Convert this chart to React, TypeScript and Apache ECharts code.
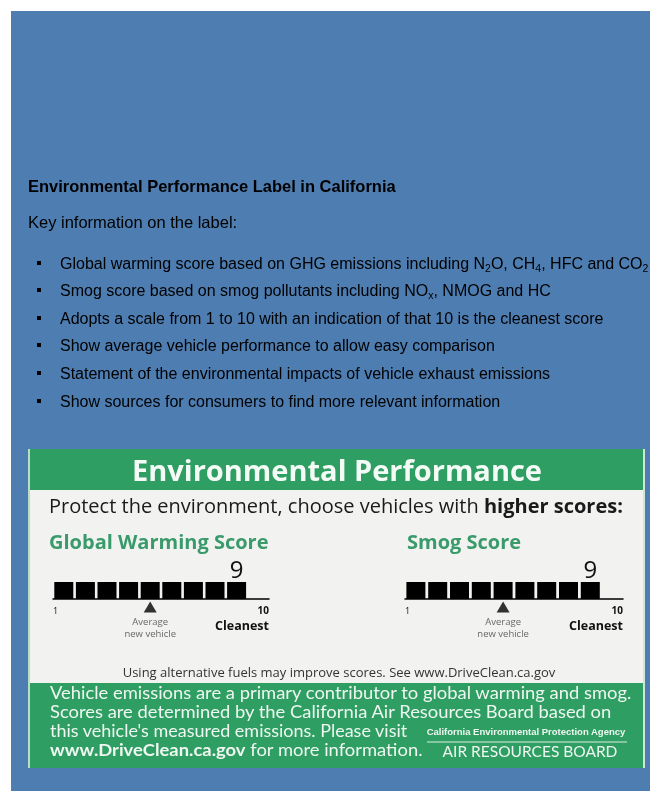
import React, { useEffect, useRef } from "react";
import * as echarts from "echarts";

const pageTitle = "Environmental Performance Label in California";
const keyHeading = "Key information on the label:";
const bulletItems = [
  "Global warming score based on GHG emissions including N{sub|2}O, CH{sub|4}, HFC and CO{sub|2}",
  "Smog score based on smog pollutants including NO{sub|x}, NMOG and HC",
  "Adopts a scale from 1 to 10 with an indication of that 10 is the cleanest score",
  "Show average vehicle performance to allow easy comparison",
  "Statement of the environmental impacts of vehicle exhaust emissions",
  "Show sources for consumers to find more relevant information",
];
const bulletRows = [263, 290, 318, 345, 373, 401];

const labelTitle = "Environmental Performance";
const labelIntro = "Protect the environment, choose vehicles with ";
const labelIntroBold = "higher scores:";
const scoreNames = ["Global Warming Score", "Smog Score"];
const scores = [9, 9];
const averageScores = [5, 5];
const scaleMin = 0;
const scaleMax = 10;
const scaleTickLabels = ["1", "10"];
const cleanestText = "Cleanest";
const averageText = "Average\nnew vehicle";
const fuelNote = "Using alternative fuels may improve scores. See www.DriveClean.ca.gov";
const footerLines = [
  "Vehicle emissions are a primary contributor to global warming and smog.",
  "Scores are determined by the California Air Resources Board based on",
  "this vehicle's measured emissions. Please visit",
  "{b|www.DriveClean.ca.gov} for more information.",
];
const agencyName = "California Environmental Protection Agency";
const boardName = "AIR RESOURCES BOARD";

const BLUE = "#4e7db1";
const GREEN = "#2f9e62";
const LIGHT = "#f2f3f0";
const TITLE_GREEN = "#3a9a6c";
const LABEL_FONT = "'Open Sans', 'Noto Sans', sans-serif";
const FOOT_FONT = "Lato, 'Open Sans', sans-serif";
const ARIAL = "'Liberation Sans', Arial, sans-serif";

const gridLefts = [53, 405];
const gridWidths = [216, 218];
const nameX = [49, 407];

export default function App() {
  const ref = useRef<HTMLDivElement>(null);
  useEffect(() => {
    if (!ref.current) return;
    const chart = echarts.init(ref.current, null, { renderer: "svg" });

    const graphics: any[] = [
      { type: "rect", shape: { x: 11, y: 11, width: 639, height: 780 }, style: { fill: BLUE }, z: -10 },
      {
        type: "text", x: 28, y: 186,
        style: { text: pageTitle, font: `bold 16.5px ${ARIAL}`, fill: "#000", verticalAlign: "middle" },
      },
      {
        type: "text", x: 28, y: 222,
        style: { text: keyHeading, font: `16.5px ${ARIAL}`, fill: "#000", verticalAlign: "middle" },
      },
    ];
    bulletItems.forEach((t, i) => {
      graphics.push({
        type: "rect", shape: { x: 37, y: bulletRows[i] - 2, width: 4, height: 4 }, style: { fill: "#000" },
      });
      graphics.push({
        type: "text", x: 60, y: bulletRows[i],
        style: {
          text: t, fontFamily: ARIAL, fontSize: 16, fill: "#000", verticalAlign: "middle",
          rich: {
            sub: { fontFamily: ARIAL, fontSize: 10.5, verticalAlign: "bottom", lineHeight: 21, fill: "#000" },
          },
        },
      });
    });
    // label panel
    graphics.push(
      { type: "rect", shape: { x: 28, y: 449, width: 617, height: 319 }, style: { fill: GREEN }, z: -5 },
      { type: "rect", shape: { x: 28, y: 449, width: 2, height: 319 }, style: { fill: "#b7dec7" }, z: -4 },
      { type: "rect", shape: { x: 643, y: 449, width: 2, height: 319 }, style: { fill: "#cfe6d8" }, z: -4 },
      { type: "rect", shape: { x: 30, y: 490, width: 613, height: 193 }, style: { fill: LIGHT }, z: -4 },
      {
        type: "text", x: 337, y: 469,
        style: { text: labelTitle, font: `bold 29px ${LABEL_FONT}`, fill: "#f4faf6", align: "center", verticalAlign: "middle" },
      },
      {
        type: "text", x: 49, y: 505,
        style: {
          text: `${labelIntro}{b|${labelIntroBold}}`, fontFamily: LABEL_FONT, fontSize: 20, fill: "#1a1a1a", verticalAlign: "middle",
          rich: { b: { fontFamily: LABEL_FONT, fontSize: 20, fontWeight: "bold", fill: "#1a1a1a" } },
        },
      }
    );
    scoreNames.forEach((n, i) => {
      graphics.push({
        type: "text", x: nameX[i], y: 541,
        style: { text: n, font: `bold 20px ${LABEL_FONT}`, fill: TITLE_GREEN, verticalAlign: "middle" },
      });
    });
    graphics.push(
      {
        type: "text", x: 339, y: 672,
        style: { text: fuelNote, font: `13px ${LABEL_FONT}`, fill: "#333", align: "center", verticalAlign: "middle" },
      }
    );
    const footerY = [693, 712, 731, 750];
    footerLines.forEach((t, i) => {
      graphics.push({
        type: "text", x: 50, y: footerY[i], scaleX: i === 2 ? 1.09 : 1.115,
        style: {
          text: t, fontFamily: FOOT_FONT, fontSize: 16.5, lineHeight: 18, fill: "#eef7f1", verticalAlign: "middle",
          rich: { b: { fontFamily: FOOT_FONT, fontSize: 16.5, fontWeight: "bold", lineHeight: 18, fill: "#eef7f1" } },
        },
      });
    });
    graphics.push(
      {
        type: "text", x: 526, y: 731,
        style: { text: agencyName, font: `bold 9.5px 'Liberation Sans Narrow', ${ARIAL}`, fill: "#eef7f1", align: "center", verticalAlign: "middle" },
      },
      { type: "line", shape: { x1: 427, y1: 742, x2: 627, y2: 742 }, style: { stroke: "#dcefe3", lineWidth: 1 } },
      {
        type: "text", x: 530, y: 751,
        style: { text: boardName, font: `15.5px ${FOOT_FONT}`, lineHeight: 16, fill: "#eef7f1", align: "center", verticalAlign: "middle" },
      }
    );

    const grids: any[] = [];
    const xAxes: any[] = [];
    const yAxes: any[] = [];
    const series: any[] = [];
    scores.forEach((score, gi) => {
      grids.push({ left: gridLefts[gi], width: gridWidths[gi], top: 582, height: 17, containLabel: false });
      xAxes.push({
        type: "value", gridIndex: gi, min: scaleMin, max: scaleMax, interval: 10,
        axisLine: { show: true, onZero: false, lineStyle: { color: "#000", width: 1.5 } },
        axisTick: { show: false }, splitLine: { show: false },
        axisLabel: {
          show: true, margin: 4, alignMinLabel: "left", alignMaxLabel: "right",
          formatter: (v: number) => (v === scaleMin ? `{n|${scaleTickLabels[0]}}` : `{m|${scaleTickLabels[1]}}\n{c|${cleanestText}}`),
          rich: {
            n: { fontFamily: LABEL_FONT, fontSize: 9, color: "#111", lineHeight: 14 },
            m: { fontFamily: LABEL_FONT, fontSize: 10, fontWeight: "bold", color: "#111", lineHeight: 14, align: "right" },
            c: { fontFamily: LABEL_FONT, fontSize: 12.5, fontWeight: "bold", color: "#111", lineHeight: 17, align: "right" },
          },
        },
      });
      yAxes.push({ type: "value", gridIndex: gi, min: 0, max: 1, show: false });
      const barData = [];
      for (let k = 1; k <= score; k++) barData.push([k - 0.5, 1]);
      series.push({
        type: "bar", xAxisIndex: gi, yAxisIndex: gi, data: barData, barWidth: 19,
        itemStyle: { color: "#000" },
        label: {
          show: true, position: "top", distance: 2,
          formatter: (p: any) => (p.dataIndex === score - 1 ? String(score) : ""),
          fontFamily: LABEL_FONT, fontSize: 24, color: "#111",
        },
      });
      series.push({
        type: "scatter", xAxisIndex: gi, yAxisIndex: gi, clip: false,
        data: [[averageScores[gi] - 0.5, -0.47]],
        symbol: "triangle", symbolSize: [13, 11], itemStyle: { color: "#000" },
        label: {
          show: true, position: "bottom", distance: 3, formatter: averageText,
          fontFamily: LABEL_FONT, fontSize: 9.5, lineHeight: 12, color: "#444", align: "center",
        },
      });
    });

    chart.setOption({
      animation: false,
      grid: grids,
      xAxis: xAxes,
      yAxis: yAxes,
      series,
      graphic: graphics,
    });
    return () => chart.dispose();
  }, []);
  return <div ref={ref} style={{ position: "fixed", left: 0, top: 0, width: 650, height: 791 }} />;
}
